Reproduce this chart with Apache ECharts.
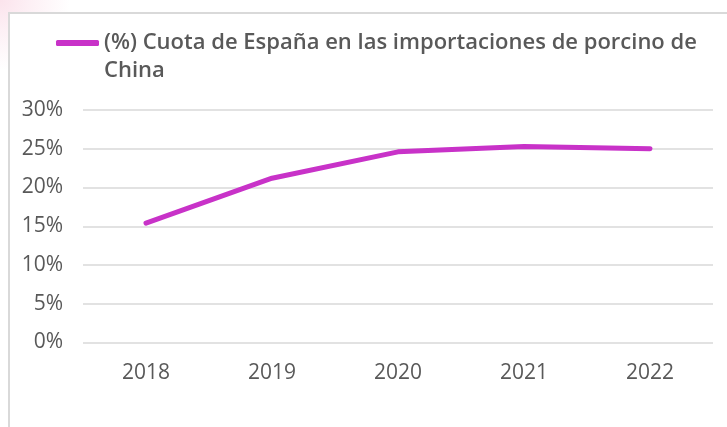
<!DOCTYPE html>
<html lang="es">
<head>
    <meta charset="UTF-8">
    <script src="https://cdn.jsdelivr.net/npm/echarts@6/dist/echarts.min.js"></script>
    <title>Cuota de España</title>
    <style>
        body { margin: 0; background: #fff; }
        #wrap {
            position: relative; width: 727px; height: 427px; overflow: hidden;
            background: radial-gradient(circle at 0 0, #fbe3ec 0, #fdf0f5 30px, #fff 70px);
        }
        #frame {
            position: absolute; left: 8px; top: 12px; width: 730px; height: 430px;
            border-left: 2px solid #d9d9d9; border-top: 2px solid #d9d9d9; background: #fff;
        }
        #chart { position: absolute; left: 0; top: 0; width: 727px; height: 427px; }
    </style>
</head>
<body>
<div id="wrap">
    <div id="frame"></div>
    <div id="chart"></div>
</div>
<script type="text/javascript">
    // datos
    var years = ['2018', '2019', '2020', '2021', '2022'];
    var cuota = [15.4, 21.2, 24.6, 25.3, 25.0];
    var seriesName = '(%) Cuota de España en las importaciones de porcino de China';

    var chart = echarts.init(document.getElementById('chart'));
    chart.setOption({
        animation: false,
        legend: {
            left: 56,
            top: 1,
            padding: 0,
            itemWidth: 43,
            itemHeight: 6,
            itemGap: 0,
            icon: 'roundRect',
            // linea vacia arriba para que el icono quede en la primera linea
            formatter: function (name) { return '\n' + name; },
            textStyle: {
                fontFamily: 'Open Sans',
                fontWeight: 600,
                fontSize: 22,
                color: '#595959',
                width: 612,
                overflow: 'break',
                lineHeight: 28
            },
            data: [seriesName]
        },
        grid: {
            left: 83,
            right: 14,
            top: 110,
            bottom: 84.5,
            containLabel: false
        },
        xAxis: {
            type: 'category',
            data: years,
            boundaryGap: true,
            axisLine: { show: false },
            axisTick: { show: false },
            axisLabel: {
                margin: 20,
                fontFamily: 'Open Sans',
                fontSize: 21,
                color: '#595959'
            }
        },
        yAxis: {
            type: 'value',
            min: 0,
            max: 30,
            interval: 5,
            axisLine: { show: false },
            axisTick: { show: false },
            splitLine: { lineStyle: { color: '#d9d9d9', width: 1.5 } },
            axisLabel: {
                margin: 20,
                fontFamily: 'Open Sans',
                fontSize: 21,
                color: '#595959',
                formatter: '{value}%'
            }
        },
        series: [{
            name: seriesName,
            type: 'line',
            data: cuota,
            symbol: 'none',
            lineStyle: { color: '#c832c8', width: 5, cap: 'round', join: 'round' },
            itemStyle: { color: '#c832c8' }
        }]
    });
</script>
</body>
</html>
